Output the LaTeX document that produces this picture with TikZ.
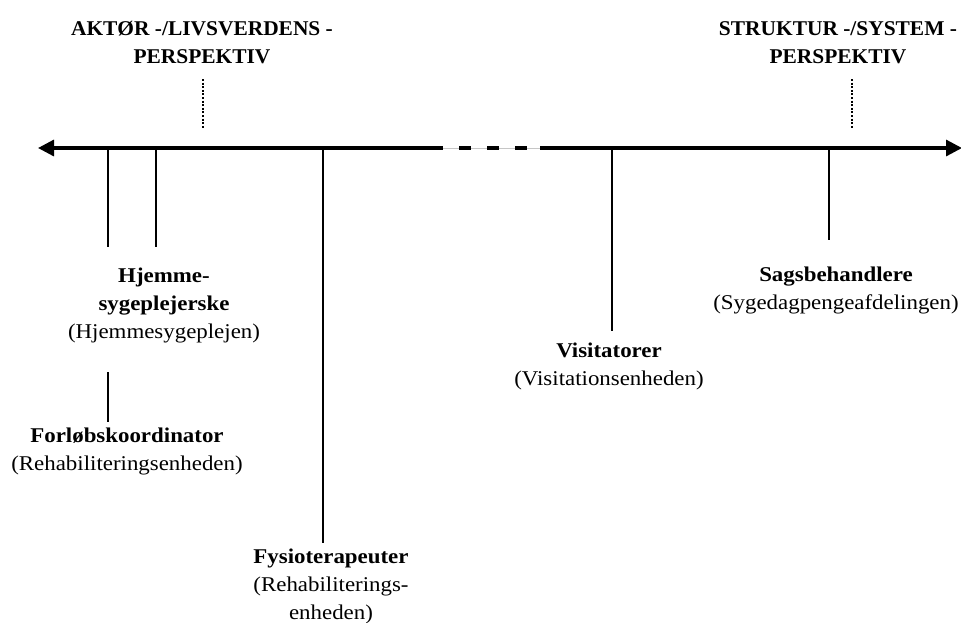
\documentclass[tikz,border=0pt]{standalone}
\usepackage{fontspec}
\setmainfont[FakeStretch=1.09]{Liberation Serif}
\newfontfamily\headfont[FakeStretch=1.02]{Liberation Serif}
\usetikzlibrary{arrows.meta}
\tikzset{
  axis/.style={line width=3.2pt},
  tickline/.style={line width=1.6pt},
  dotline/.style={line width=2.4pt, dash pattern=on 2pt off 1.6pt},
  lbl/.style={align=center, inner sep=0pt, anchor=base, font=\fontsize{21}{28}\selectfont},
  head/.style={lbl, font=\headfont\bfseries\fontsize{21}{28}\selectfont}
}
\begin{document}
\begin{tikzpicture}[x=1pt,y=-1pt]
\useasboundingbox (0,0) rectangle (961,622);
% axis
\coordinate (L) at (38,148);
\coordinate (G1) at (443,148);
\coordinate (G2) at (540,148);
\coordinate (R) at (962,148);
\draw[gray!45, line width=0.6pt] (G1) -- (G2);
\draw[axis, {Triangle[length=16pt,width=16pt]}-] (L) -- (G1);
\draw[axis, dash pattern=on 12pt off 16pt, dash phase=12pt] (G1) -- (G2);
\draw[axis, -{Triangle[length=16pt,width=16pt]}] (G2) -- (R);
% headings (anchor base = baseline of last line)
\node[head] (aktor) at (202,63) {AKTØR -/LIVSVERDENS -\\PERSPEKTIV};
\node[head] (struktur) at (838,63) {STRUKTUR -/SYSTEM -\\PERSPEKTIV};
\coordinate (d1a) at (203,79); \coordinate (d1b) at (203,129);
\coordinate (d2a) at (852,79); \coordinate (d2b) at (852,129);
\draw[dotline] (d1a) -- (d1b);
\draw[dotline] (d2a) -- (d2b);
% ticks
\coordinate (a1) at (108,148); \coordinate (b1) at (108,247);
\coordinate (a2) at (156,148); \coordinate (b2) at (156,247);
\coordinate (a3) at (323,148); \coordinate (b3) at (323,543);
\coordinate (a4) at (612,148); \coordinate (b4) at (612,331);
\coordinate (a5) at (829,148); \coordinate (b5) at (829,240);
\coordinate (a6) at (108,372); \coordinate (b6) at (108,422);
\foreach \i in {1,...,6} {\draw[tickline] (a\i) -- (b\i);}
% labels
\node[lbl] (hjem) at (164,338) {\textbf{Hjemme-}\\\textbf{sygeplejerske}\\(Hjemmesygeplejen)};
\node[lbl] (forl) at (127,470) {\textbf{Forløbskoordinator}\\(Rehabiliteringsenheden)};
\node[lbl] (fysio) at (331,619) {\textbf{Fysioterapeuter}\\(Rehabiliterings-\\enheden)};
\node[lbl] (visit) at (609,385) {\textbf{Visitatorer}\\(Visitationsenheden)};
\node[lbl] (sags) at (836,309) {\textbf{Sagsbehandlere}\\(Sygedagpengeafdelingen)};
\end{tikzpicture}
\end{document}
